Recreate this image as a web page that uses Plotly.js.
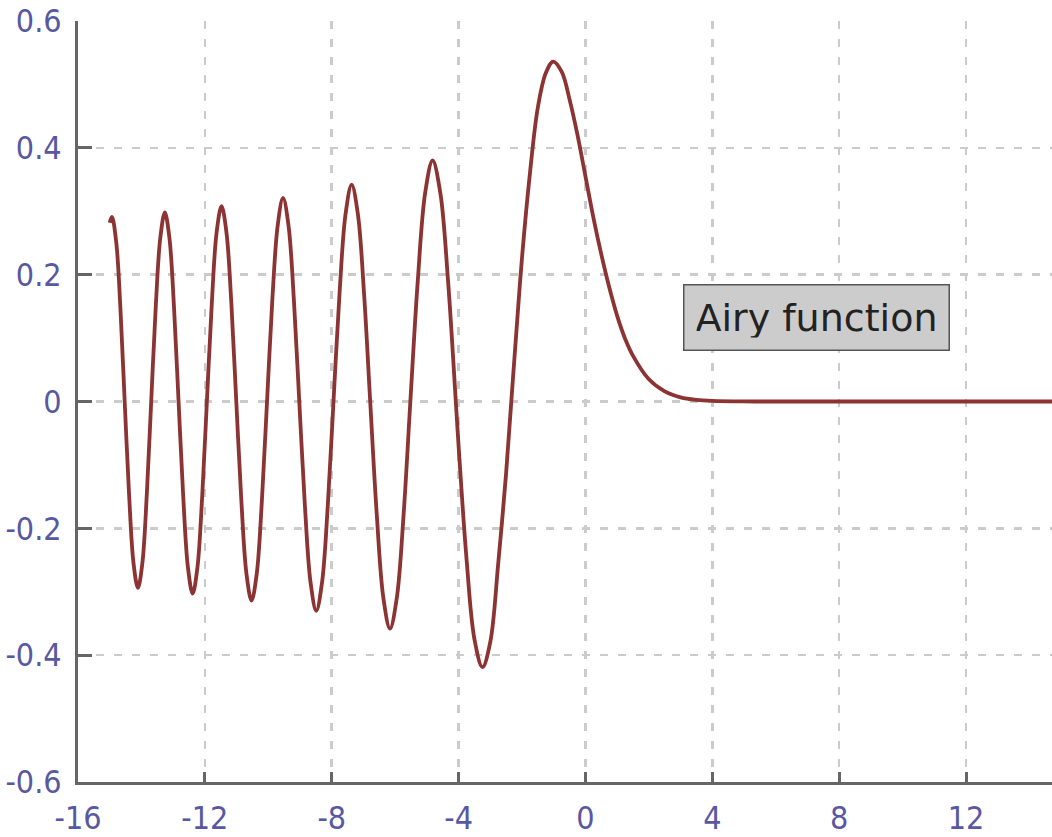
<!DOCTYPE html>
<html>
<head>
<meta charset="utf-8">
<script src="https://cdn.plot.ly/plotly-3.0.1.min.js"></script>
<style>
html,body{margin:0;padding:0;background:#fff;}
#chart{width:1052px;height:837px;}
#chart .xtick text, #chart .ytick text{font-stretch:condensed;}
</style>
</head>
<body>
<div id="chart"></div>
<script>
// Points (x, Ai(x))
const xVals = [
  -15.0, -14.93, -14.796, -14.662, -14.528, -14.389, -14.249, -14.110, -13.971, -13.831,
  -13.692, -13.549, -13.405, -13.262, -13.118, -12.973, -12.829, -12.681, -12.533, -12.385,
  -12.235, -12.086, -11.936, -11.782, -11.629, -11.475, -11.320, -11.164, -11.009, -10.849,
  -10.688, -10.528, -10.365, -10.203, -10.040, -9.872, -9.703, -9.535, -9.364, -9.194,
  -9.023, -8.845, -8.666, -8.488, -8.307, -8.125, -7.944, -7.753, -7.563, -7.372,
  -7.177, -6.982, -6.787, -6.579, -6.371, -6.163, -5.949, -5.735, -5.521, -5.287,
  -5.054, -4.820, -4.576, -4.332, -4.088, -4.0, -3.75, -3.5, -3.248, -3.0,
  -2.75, -2.5, -2.338, -2.2, -2.0, -1.75, -1.5, -1.25, -1.019, -0.75,
  -0.5, -0.25, 0.0, 0.25, 0.5, 0.75, 1.0, 1.25, 1.5, 2.0,
  2.5, 3.0, 3.5, 4.0, 5.0, 6.0, 8.0, 10.0, 12.0, 14.0, 15.0
];
const yVals = [
  0.282, 0.291, 0.252, 0.146, 0.0, -0.147, -0.255, -0.294, -0.255, -0.147,
  0.0, 0.149, 0.258, 0.298, 0.258, 0.149, 0.0, -0.151, -0.262, -0.303,
  -0.262, -0.151, 0.0, 0.154, 0.267, 0.308, 0.267, 0.154, 0.0, -0.157,
  -0.272, -0.314, -0.272, -0.157, 0.0, 0.161, 0.278, 0.321, 0.278, 0.161,
  0.0, -0.165, -0.286, -0.330, -0.286, -0.165, 0.0, 0.171, 0.296, 0.342,
  0.296, 0.171, 0.0, -0.179, -0.310, -0.358, -0.310, -0.179, 0.0, 0.190,
  0.329, 0.380, 0.329, 0.190, 0.0, -0.070, -0.248, -0.375, -0.419, -0.379,
  -0.255, -0.112, 0.0, 0.095, 0.227, 0.360, 0.464, 0.518, 0.536, 0.520,
  0.476, 0.420, 0.355, 0.290, 0.232, 0.180, 0.135, 0.099, 0.072, 0.035,
  0.016, 0.0066, 0.0026, 0.0010, 0.0001, 0.0, 0.0, 0.0, 0.0, 0.0, 0.0
];
const xTicks = [-16, -12, -8, -4, 0, 4, 8, 12];
const xTickText = ['-16', '-12', '-8', '-4', '0', '4', '8', '12'];
const yTicks = [-0.6, -0.4, -0.2, 0, 0.2, 0.4, 0.6];
const yTickText = ['-0.6', '-0.4', '-0.2', '0', '0.2', '0.4', '0.6'];
const labelText = 'Airy function';

const tickFont = {family: '"DejaVu Sans", sans-serif', size: 32, color: '#5858a2'};

const trace = {
  x: xVals, y: yVals, type: 'scatter', mode: 'lines',
  line: {color: '#8c3333', width: 3.8, shape: 'spline', smoothing: 1},
  hoverinfo: 'skip'
};

const axisCommon = {
  showline: true, linecolor: '#666666', linewidth: 3,
  showgrid: true, gridcolor: '#cbcbcb', gridwidth: 2.5, griddash: '8px,10px',
  zeroline: false, ticks: 'inside', tickcolor: '#666666', tickwidth: 3,
  tickfont: tickFont, mirror: false
};

const layout = {
  width: 1052, height: 837,
  margin: {l: 78, r: 0, t: 21, b: 55, pad: 0},
  paper_bgcolor: '#ffffff', plot_bgcolor: '#ffffff',
  showlegend: false,
  xaxis: Object.assign({}, axisCommon, {
    range: [-16, 14.71], tickvals: xTicks, ticktext: xTickText,
    ticklen: 10, ticklabelstandoff: 6
  }),
  yaxis: Object.assign({}, axisCommon, {
    range: [-0.6, 0.6], tickvals: yTicks, ticktext: yTickText,
    ticklen: 14, ticklabelstandoff: 7
  }),
  annotations: [{
    x: 7.27, y: 0.133, xref: 'x', yref: 'y', showarrow: false,
    text: labelText,
    font: {family: '"DejaVu Sans", sans-serif', size: 38, color: '#222222'},
    bgcolor: '#cccccc', bordercolor: '#555555', borderwidth: 1.5, borderpad: 12,
    width: 240, height: 40
  }]
};

Plotly.newPlot('chart', [trace], layout, {staticPlot: true, displayModeBar: false});
</script>
</body>
</html>
